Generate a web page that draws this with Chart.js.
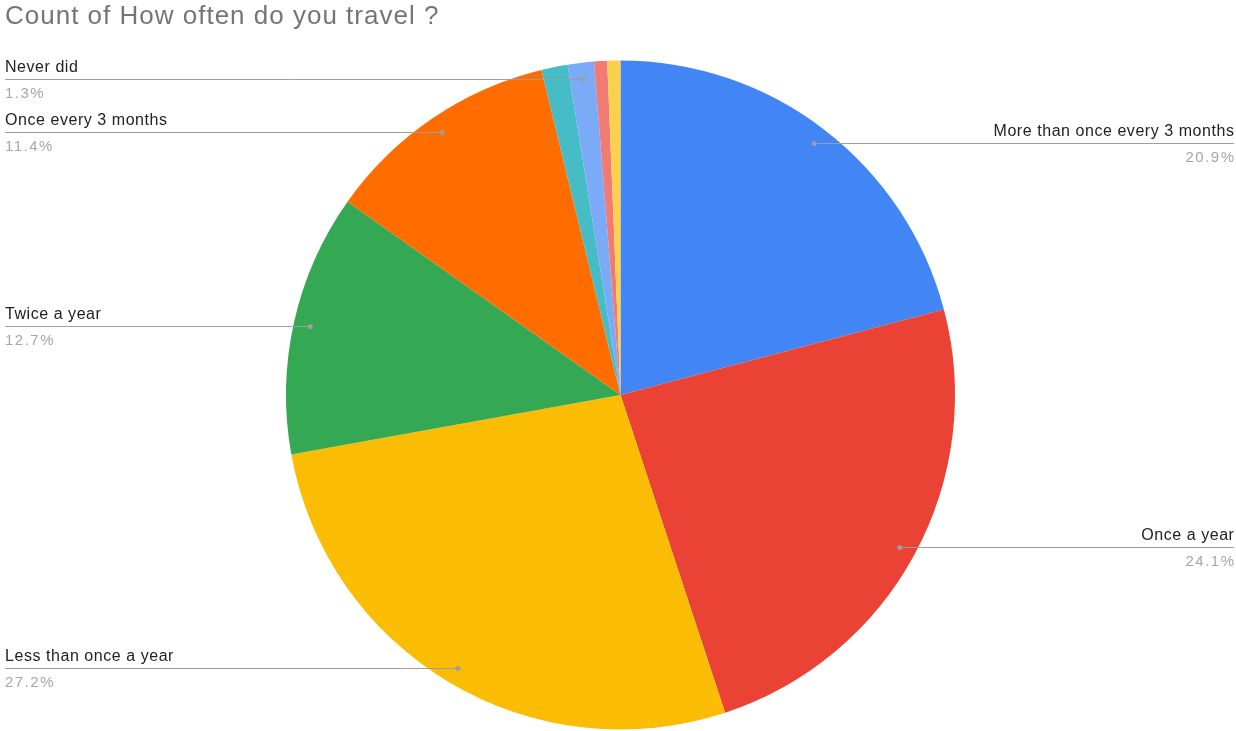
<!DOCTYPE html>
<html>
<head>
<meta charset="utf-8">
<script src="https://cdn.jsdelivr.net/npm/chart.js@4"></script>
<style>
  html, body { margin: 0; padding: 0; background: #fff; }
  #wrap { width: 1236px; height: 731px; position: relative; }
</style>
</head>
<body>
<div id="wrap"><canvas id="travelChart"></canvas></div>
<script>
const title = "Count of How often do you travel ?";
const categories = [
  "More than once every 3 months",
  "Once a year",
  "Less than once a year",
  "Twice a year",
  "Once every 3 months",
  "Once a month",
  "Never did",
  "Every few years",
  "Only for work"
];
const counts = [33, 38, 43, 20, 18, 2, 2, 1, 1];
const colors = ["#4285F4", "#EA4335", "#FBBC04", "#34A853", "#FF6D01", "#46BDC6", "#7BAAF7", "#F07B72", "#FCD04F"];
// slices that get an outside label (the tiny ones are skipped)
const labelled = [true, true, true, true, true, false, true, false, false];

const total = counts.reduce((a, b) => a + b, 0);
const pct = v => (v / total * 100).toFixed(1) + "%";

const FONT = "'Liberation Sans', Arial, sans-serif";

const sideLabels = {
  id: "sideLabels",
  afterDraw(chart) {
    const ctx = chart.ctx;
    const W = chart.width;
    ctx.save();
    ctx.textBaseline = "alphabetic";
    ctx.font = "26px " + FONT;
    ctx.letterSpacing = "1px";
    ctx.fillStyle = "#757575";
    ctx.textAlign = "left";
    ctx.fillText(title, 5, 24);

    const arcs = chart.getDatasetMeta(0).data;
    arcs.forEach((arc, i) => {
      if (!labelled[i]) return;
      const mid = (arc.startAngle + arc.endAngle) / 2;
      const r = arc.outerRadius * 0.95;
      const dx = arc.x + Math.cos(mid) * r;
      const dy = Math.round(arc.y + Math.sin(mid) * r) + 0.5;
      const right = Math.cos(mid) > 0;
      const edge = right ? W - 2 : 5;

      // leader line from the page edge to a dot inside the slice
      ctx.strokeStyle = "#9e9e9e";
      ctx.lineWidth = 1;
      ctx.beginPath();
      ctx.moveTo(edge, dy);
      ctx.lineTo(dx, dy);
      ctx.stroke();
      ctx.fillStyle = "#9e9e9e";
      ctx.beginPath();
      ctx.arc(dx, dy, 2.5, 0, Math.PI * 2);
      ctx.fill();

      ctx.textAlign = right ? "right" : "left";
      ctx.font = "16px " + FONT;
      ctx.letterSpacing = "0.55px";
      ctx.fillStyle = "#222";
      ctx.fillText(categories[i], edge + (right ? 0.5 : 0), dy - 7.5);
      ctx.font = "15px " + FONT;
      ctx.letterSpacing = "1.5px";
      ctx.fillStyle = "#a6a6a6";
      ctx.fillText(pct(counts[i]), edge + (right ? 1.5 : 0), dy + 18.5);
    });
    ctx.restore();
  }
};

new Chart(document.getElementById("travelChart"), {
  type: "pie",
  data: {
    labels: categories,
    datasets: [{
      data: counts,
      backgroundColor: colors,
      borderWidth: 0
    }]
  },
  options: {
    responsive: true,
    maintainAspectRatio: false,
    animation: false,
    layout: { padding: { top: 60, bottom: 1, left: 286, right: 281 } },
    plugins: {
      legend: { display: false },
      tooltip: { enabled: false }
    }
  },
  plugins: [sideLabels]
});
</script>
</body>
</html>
